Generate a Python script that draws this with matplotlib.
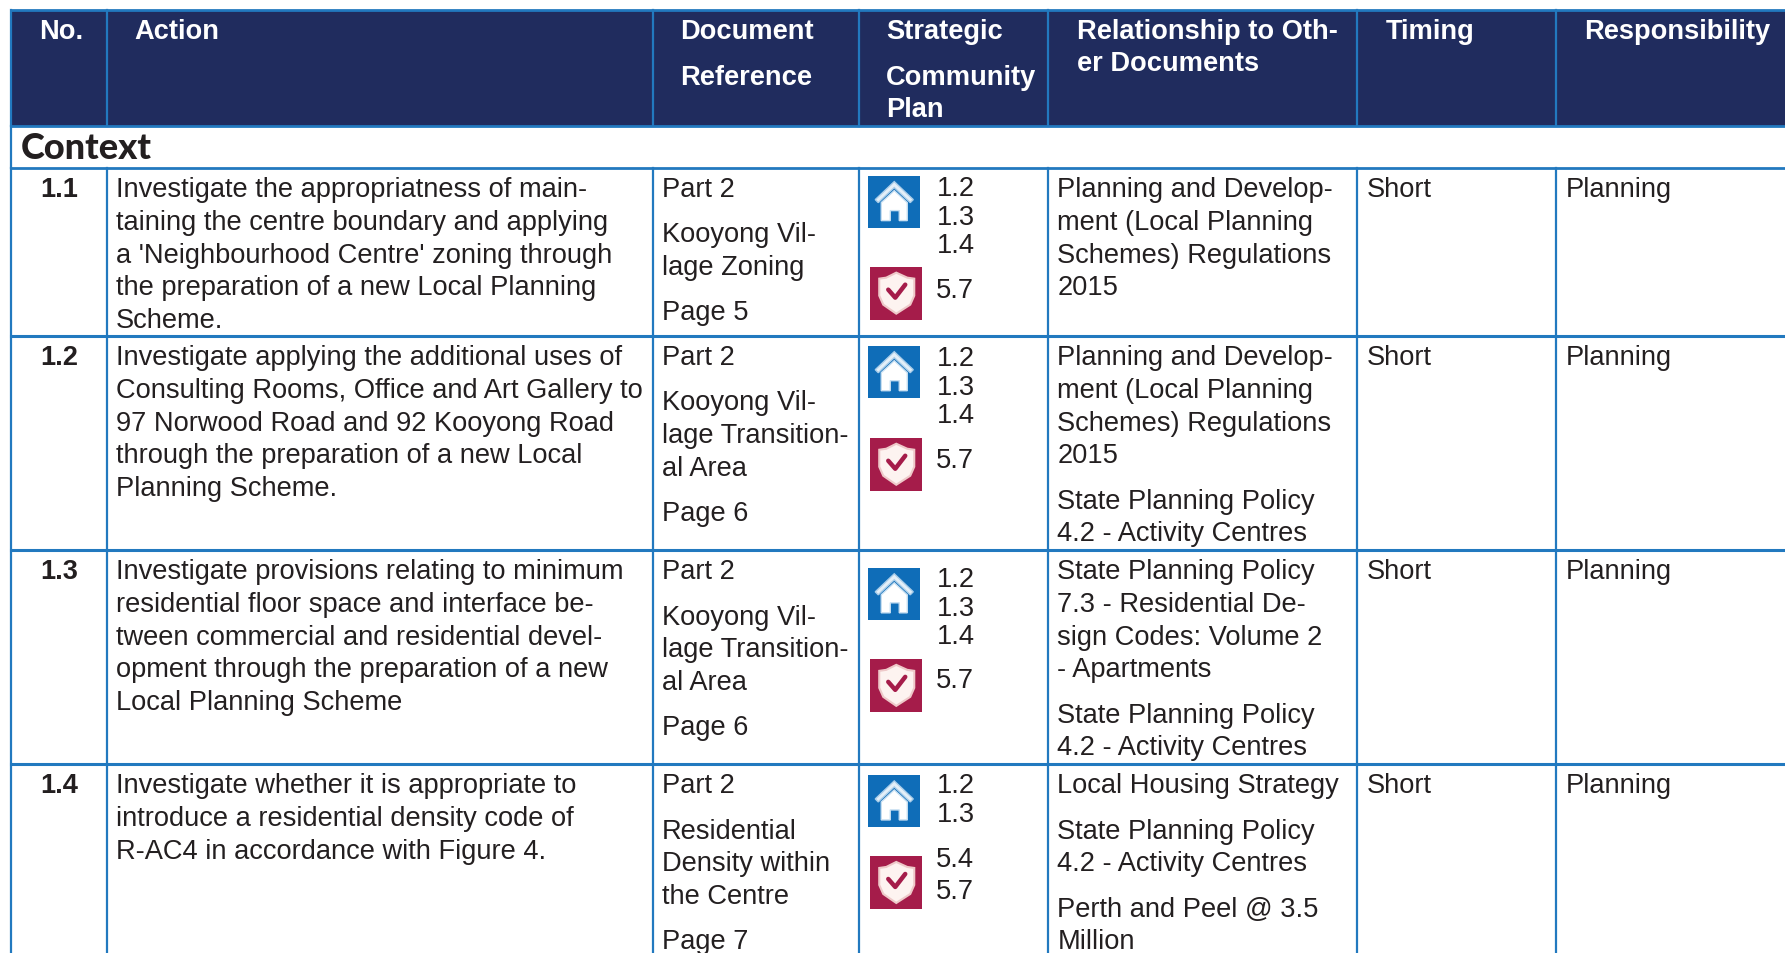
import matplotlib
matplotlib.use('Agg')
import matplotlib.pyplot as plt
from matplotlib.patches import Polygon, Rectangle

plt.rcParams['font.family'] = ['Liberation Sans', 'DejaVu Sans']

headers = [['No.'], ['Action'], ['Document', 'Reference'], ['Strategic', 'Community', 'Plan'],
           ['Relationship to Oth-', 'er Documents'], ['Timing'], ['Responsibility']]
section = 'Context'
numbers = ['1.1', '1.2', '1.3', '1.4']
actions = [
    ['Investigate the appropriatness of main-', 'taining the centre boundary and applying',
     "a 'Neighbourhood Centre' zoning through", 'the preparation of a new Local Planning', 'Scheme.'],
    ['Investigate applying the additional uses of', 'Consulting Rooms, Office and Art Gallery to',
     '97 Norwood Road and 92 Kooyong Road', 'through the preparation of a new Local', 'Planning Scheme.'],
    ['Investigate provisions relating to minimum', 'residential floor space and interface be-',
     'tween commercial and residential devel-', 'opment through the preparation of a new', 'Local Planning Scheme'],
    ['Investigate whether it is appropriate to', 'introduce a residential density code of',
     'R-AC4 in accordance with Figure 4.'],
]
doc_refs = [
    [['Part 2'], ['Kooyong Vil-', 'lage Zoning'], ['Page 5']],
    [['Part 2'], ['Kooyong Vil-', 'lage Transition-', 'al Area'], ['Page 6']],
    [['Part 2'], ['Kooyong Vil-', 'lage Transition-', 'al Area'], ['Page 6']],
    [['Part 2'], ['Residential', 'Density within', 'the Centre'], ['Page 7']],
]
home_refs = [['1.2', '1.3', '1.4'], ['1.2', '1.3', '1.4'], ['1.2', '1.3', '1.4'], ['1.2', '1.3']]
safe_refs = [['5.7'], ['5.7'], ['5.7'], ['5.4', '5.7']]
relations = [
    [['Planning and Develop-', 'ment (Local Planning', 'Schemes) Regulations', '2015']],
    [['Planning and Develop-', 'ment (Local Planning', 'Schemes) Regulations', '2015'],
     ['State Planning Policy', '4.2 - Activity Centres']],
    [['State Planning Policy', '7.3 - Residential De-', 'sign Codes: Volume 2', '- Apartments'],
     ['State Planning Policy', '4.2 - Activity Centres']],
    [['Local Housing Strategy'], ['State Planning Policy', '4.2 - Activity Centres'],
     ['Perth and Peel @ 3.5', 'Million']],
]
timing = ['Short', 'Short', 'Short', 'Short']
responsibility = ['Planning', 'Planning', 'Planning', 'Planning']

NAVY = '#202c5e'
LINE = '#2279bf'
INK = '#231f20'
HOME = '#0f6db8'
SAFE = '#a51c4a'

col_lines = [11, 107, 653, 859, 1048, 1357, 1556]
row_lines = [168, 336, 550, 764]
header_x = [39, 134, 680, 886, 1077, 1385, 1584]
header_y = [[39], [39], [39, 85], [39, 85, 117], [39, 71], [39], [39]]
text_x = [40, 116, 662, 937, 1057, 1366, 1565]
home_top = [176, 346, 568, 775]
safe_top = [267, 438, 659, 856]
home_base = [196, 366, 587, 793]
safe_base = [298, 468, 688, 867]
FS = 19.65

# the half pixel stops 953 being floored to 952 when saving
fig = plt.figure(figsize=(17.855, 9.535), dpi=100)
ax = fig.add_axes([0, 0, 1, 1])
ax.set_xlim(0, 1785)
ax.set_ylim(953, 0)
ax.axis('off')


def para(x, y, paragraphs, pitch=32.7, gap=12.5):
    for lines in paragraphs:
        for line in lines:
            ax.text(x, y, line, fontsize=FS, color=INK, va='baseline', clip_on=True)
            y += pitch
        y += gap


def home_icon(x, y):
    ax.add_patch(Rectangle((x, y), 52, 52, fc=HOME, ec='none'))
    roof = [(x+7, y+24), (x+26, y+6), (x+45, y+24), (x+42, y+27), (x+26, y+12), (x+10, y+27)]
    body = [(x+13, y+27), (x+26, y+15), (x+39, y+27), (x+39, y+45), (x+31, y+45), (x+31, y+35),
            (x+22, y+35), (x+22, y+45), (x+13, y+45)]
    ax.add_patch(Polygon(roof, fc='#e4eff8', ec='#a9cde9', lw=1))
    ax.add_patch(Polygon(body, fc='white', ec='#c9e0f2', lw=1))


def safe_icon(x, y):
    ax.add_patch(Rectangle((x, y), 52, 53, fc=SAFE, ec='none'))
    shield = [(x+26, y+6), (x+37, y+11), (x+44, y+12), (x+44, y+29), (x+40, y+38), (x+26, y+47),
              (x+13, y+38), (x+9, y+29), (x+9, y+12), (x+16, y+11)]
    ax.add_patch(Polygon(shield, fc='#fdf3f0', ec='#eec9c9', lw=1.5))
    ax.plot([x+18, x+25, x+35], [y+23, y+31, y+18], color=SAFE, lw=3.2, solid_capstyle='round')


# header band and section row
ax.add_patch(Rectangle((col_lines[0], 10), 1785 - col_lines[0], 116, fc=NAVY, ec='none'))
for y in (10, 126, 168):
    ax.plot((11, 1785), (y, y), color=LINE, lw=2)
for y in row_lines[1:]:
    ax.plot((11, 1785), (y, y), color=LINE, lw=2.2)
for x in col_lines:
    ax.plot((x, x), (10, 126), color=LINE, lw=1.6)
    ax.plot((x, x), (168, 953), color=LINE, lw=1.6)
ax.plot((11, 11), (126, 168), color=LINE, lw=1.6)

for x, ys, labels in zip(header_x, header_y, headers):
    for y, label in zip(ys, labels):
        ax.text(x, y, label, fontsize=FS, fontweight='bold', color='white', va='baseline')
ax.text(21, 159, section, fontsize=26, fontweight='black', family='Lato', color=INK, va='baseline')

for i, top in enumerate(row_lines):
    base = top + 29
    ax.text(text_x[0], base, numbers[i], fontsize=FS, fontweight='bold', color=INK, va='baseline')
    para(text_x[1], base, [actions[i]])
    para(text_x[2], base, doc_refs[i])
    para(text_x[4], base, relations[i])
    ax.text(text_x[5], base, timing[i], fontsize=FS, color=INK, va='baseline')
    ax.text(text_x[6], base, responsibility[i], fontsize=FS, color=INK, va='baseline')
    home_icon(868, home_top[i])
    safe_icon(870, safe_top[i])
    for k, ref in enumerate(home_refs[i]):
        ax.text(text_x[3], home_base[i] + 28.5 * k, ref, fontsize=FS, color=INK, va='baseline')
    for k, ref in enumerate(safe_refs[i]):
        ax.text(text_x[3] - 1, safe_base[i] + 32 * k, ref, fontsize=FS, color=INK, va='baseline')

fig.savefig('out.png', dpi=100)
